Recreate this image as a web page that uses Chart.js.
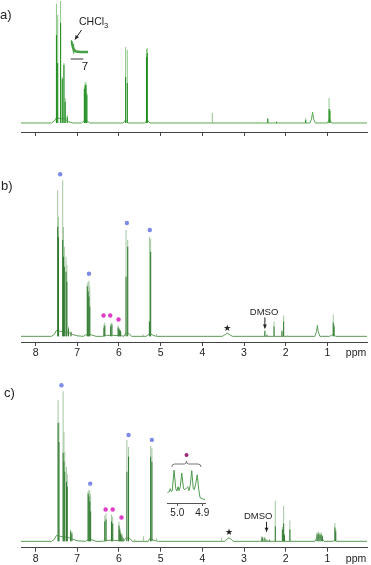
<!DOCTYPE html>
<html>
<head>
<meta charset="utf-8">
<script src="https://cdn.jsdelivr.net/npm/chart.js@4.4.0/dist/chart.umd.min.js"></script>
<style>
  html, body { margin: 0; padding: 0; background: #fff; overflow: hidden; }
  #wrap { position: relative; width: 371px; height: 565px; }
  canvas { position: absolute; }
</style>
</head>
<body>
<div id="wrap">
  <canvas id="specA" width="371" height="140" style="left:0;top:0"></canvas>
  <canvas id="specB" width="371" height="217" style="left:0;top:145px"></canvas>
  <canvas id="specC" width="371" height="206" style="left:0;top:362px"></canvas>
  <canvas id="insetA" width="40" height="45" style="left:62px;top:30px"></canvas>
  <canvas id="insetC" width="55" height="75" style="left:160px;top:445px"></canvas>
</div>
<script>
// ppm axis ticks (shared)
const ppmTicks = [8, 7, 6, 5, 4, 3, 2, 1];

// a) peak lines: position, full height, height of the dense (dark) part
const ppmA  = [7.50, 7.47, 7.40, 7.36, 7.32, 7.29, 7.24, 6.83, 6.81, 6.79, 6.77, 5.84, 5.80, 5.34, 5.32, 3.76, 2.70, 2.43, 2.22, 1.52, 0.96, 0.94];
const topA  = [119, 108, 122, 46, 60, 25, 8, 36, 41, 40, 30, 76, 73, 74, 75, 10, 1, 5, 1.5, 5, 25, 14];
const coreA = [88, 60, 100, 44, 58, 21, 6, 34, 38, 38, 28, 46, 40, 66, 70, 0, 0, 4, 1, 3, 14, 12];
// a) baseline trace
const baseXA = [8.35, 7.62, 7.55, 7.50, 7.30, 7.20, 7.10, 6.90, 6.84, 6.76, 6.70, 5.90, 5.84, 5.78, 5.38, 5.32, 5.26, 1.42, 1.38, 1.355, 1.33, 1.29, 1.00, 0.95, 0.90, 0.05];
const baseYA = [0, 0, 2, 5, 4, 1, 0, 0, 2, 2, 0, 0, 3, 0, 0, 3, 0, 0, 4, 11, 4, 0, 0, 4, 0, 0];

// b)
const ppmB  = [7.47, 7.45, 7.35, 7.33, 7.31, 7.27, 7.25, 7.21, 7.15, 6.76, 6.74, 6.72, 6.70, 6.36, 6.34, 6.20, 6.17, 6.02, 6.00, 5.98, 5.96, 5.83, 5.79, 5.42, 5.27, 5.24, 5.10, 2.50, 2.45, 2.28, 2.09, 2.05, 1.96, 0.86, 0.84];
const topB  = [147, 120, 157, 110, 90, 80, 72, 10, 5, 53, 55, 56, 50, 12, 14, 13, 14, 11, 9, 8, 6, 107, 97, 2, 100, 98, 2, 6.5, 2, 15, 6, 21, 1, 22, 12];
const coreB = [110, 100, 97, 80, 70, 65, 55, 8, 4, 50, 45, 40, 30, 9, 11, 10, 12, 9, 7, 6, 5, 60, 90, 0, 15, 85, 0, 5, 1, 10, 5, 15, 0, 14, 10];
const baseXB = [8.35, 7.62, 7.55, 7.50, 7.40, 7.22, 7.12, 7.00, 6.85, 6.80, 6.66, 6.55, 6.40, 6.30, 6.15, 5.92, 5.88, 5.84, 5.76, 5.70, 5.35, 5.30, 5.25, 5.18, 5.10, 3.52, 3.44, 3.40, 3.36, 3.28, 1.30, 1.26, 1.24, 1.22, 1.18, 0.95, 0.90, 0.85, 0.80, 0.05];
const baseYB = [0, 0, 2, 6, 5, 4, 2, 0.5, 0, 1.5, 1.5, 0, 0, 1, 1, 0.5, 0, 3, 3, 0, 0, 1.5, 3, 1, 0, 0, 2, 3.3, 2, 0, 0, 5, 11, 5, 0, 0, 1, 2, 0, 0];
const blueXB = [7.41, 6.72, 5.81, 5.26];
const blueYB = [163, 63, 114, 107];
const pinkXB = [6.37, 6.21, 6.01];
const pinkYB = [21, 21, 17];

// c)
const ppmC  = [7.46, 7.44, 7.34, 7.32, 7.30, 7.26, 7.24, 7.16, 7.13, 6.74, 6.72, 6.70, 6.68, 6.34, 6.31, 6.18, 6.15, 6.00, 5.98, 5.96, 5.93, 5.90, 5.81, 5.77, 5.62, 5.41, 5.24, 5.21, 5.10, 3.54, 2.57, 2.55, 2.50, 2.45, 2.39, 2.25, 2.08, 2.05, 2.03, 1.90, 1.25, 1.22, 1.18, 1.15, 1.12, 0.82, 0.80];
const topC  = [142, 120, 151, 110, 90, 75, 68, 12, 10, 50, 52, 51, 47, 26, 28, 27, 25, 20, 14, 10, 8, 4, 102, 95, 2, 5, 96, 94, 3, 3.4, 5, 4, 4.5, 2, 2, 40.7, 14.4, 35.7, 8, 21, 9, 10, 9, 9, 6, 18.4, 12];
const coreC = [119, 100, 89, 80, 70, 60, 55, 10, 8, 48, 45, 40, 30, 20, 22, 20, 18, 16, 12, 8, 6, 3, 70, 85, 0, 0, 85, 80, 0, 0, 4, 3, 3, 1, 1, 15, 12, 18, 6, 12, 7, 8, 7, 7, 5, 14, 10];
const baseXC = [8.35, 7.62, 7.55, 7.50, 7.40, 7.22, 7.10, 7.00, 6.80, 6.76, 6.64, 6.55, 6.40, 6.30, 6.10, 5.88, 5.84, 5.74, 5.68, 5.30, 5.26, 5.16, 5.05, 3.46, 3.40, 3.36, 3.32, 3.26, 2.62, 2.40, 1.30, 1.25, 1.15, 1.08, 0.86, 0.82, 0.78, 0.05];
const baseYC = [0, 0, 2, 6, 5, 4, 2, 0.5, 0, 1.5, 1.5, 0, 0, 1, 1, 0.5, 3, 3, 0, 0, 3, 1, 0, 0, 2.5, 3.5, 2.5, 0, 0, 0, 0, 4, 4, 0, 0, 2, 0, 0];
const blueXC = [7.38, 6.69, 5.77, 5.21];
const blueYC = [157, 58, 107, 102];
const pinkXC = [6.32, 6.15, 5.94];
const pinkYC = [32, 32, 24];

// inset in a): CHCl3 signal, zoomed
const insetAPpm = [7.28, 7.27, 7.255, 7.24, 7.22, 7.20, 7.18, 7.10, 6.96];
const insetAInt = [11.3, 10.5, 8, 5, 2.5, 1, 0.4, 0.1, 0];

// inset in c): 5.04 - 4.89 ppm region
const insetCPpm = [5.040, 5.032, 5.028, 5.024, 5.020, 5.013, 5.006, 5.002, 4.997, 4.993, 4.988, 4.982, 4.975, 4.969, 4.962, 4.958, 4.953, 4.948, 4.942, 4.936, 4.932, 4.927, 4.920, 4.914, 4.909, 4.900, 4.889];
const insetCInt = [0, 1, 4, 1, 2, 23, 4, 1.6, 6, 2, 6, 20, 4, 3, 5, 6, 2, 8, 22.6, 4, 3, 8, 18.3, 3, -5, -6.5, -7];
const insetCTicks = [5.0, 4.9];

const FONT = 'Liberation Sans, Arial, Helvetica, sans-serif';

function pts(xs, ys) {
    return xs.map((x, i) => ({ x: x, y: ys[i] }));
}

function sticks(xs, ys, color, order) {
    return {
        type: 'bar',
        data: pts(xs, ys),
        backgroundColor: color,
        borderWidth: 0,
        barThickness: 1,
        inflateAmount: 0,
        grouped: false,
        order: order
    };
}

function trace(xs, ys, color, width, order) {
    return {
        type: 'line',
        data: pts(xs, ys),
        borderColor: color,
        borderWidth: width,
        pointRadius: 0,
        tension: 0,
        fill: false,
        order: order
    };
}

function dots(xs, ys, color) {
    return {
        type: 'scatter',
        data: pts(xs, ys),
        pointRadius: 2.2,
        pointBackgroundColor: color,
        pointBorderWidth: 0,
        clip: false,
        order: 0
    };
}

function spectrumOptions(yMin, yMax, showLabels, pad) {
    return {
        responsive: false,
        animation: false,
        devicePixelRatio: 1,
        layout: { padding: pad },
        plugins: { legend: { display: false }, tooltip: { enabled: false } },
        scales: {
            x: {
                type: 'linear',
                reverse: true,
                min: 0.05,
                max: 8.35,
                offset: false,
                afterBuildTicks: s => { s.ticks = ppmTicks.map(v => ({ value: v })); },
                grid: { offset: false, drawOnChartArea: false, drawTicks: true, tickLength: 4, color: '#444' },
                border: { color: '#444', width: 1 },
                ticks: { display: showLabels, padding: 1, maxRotation: 0, autoSkip: false, color: '#222', font: { family: FONT, size: 10.5 } }
            },
            y: { display: false, min: yMin, max: yMax }
        }
    };
}

function arrow(ctx, x1, y1, x2, y2) {
    ctx.beginPath();
    ctx.moveTo(x1, y1);
    ctx.lineTo(x2, y2);
    ctx.stroke();
    const a = Math.atan2(y2 - y1, x2 - x1);
    ctx.beginPath();
    ctx.moveTo(x2, y2);
    ctx.lineTo(x2 - 4 * Math.cos(a) + 2 * Math.sin(a), y2 - 4 * Math.sin(a) - 2 * Math.cos(a));
    ctx.lineTo(x2 - 4 * Math.cos(a) - 2 * Math.sin(a), y2 - 4 * Math.sin(a) + 2 * Math.cos(a));
    ctx.closePath();
    ctx.fill();
}

function label(ctx, text, x, y, size, align) {
    ctx.font = size + 'px ' + FONT;
    ctx.textAlign = align || 'center';
    ctx.textBaseline = 'middle';
    ctx.fillText(text, x, y);
}

// annotations for b) and c): panel letter, solvent star, DMSO arrow, ppm
function panelNotes(letter, letterX, letterY, star, dmso) {
    return {
        id: 'notes' + letter,
        afterDatasetsDraw(chart) {
            const ctx = chart.ctx;
            const x = chart.scales.x, y = chart.scales.y;
            ctx.save();
            ctx.fillStyle = '#222';
            ctx.strokeStyle = '#222';
            ctx.lineWidth = 1;
            label(ctx, letter + ')', letterX, letterY, 13, 'left');
            ctx.font = '9px DejaVu Sans';
            ctx.textAlign = 'center';
            ctx.textBaseline = 'middle';
            ctx.fillText('\u2605', x.getPixelForValue(star[0]), y.getPixelForValue(star[1]));
            label(ctx, 'DMSO', x.getPixelForValue(dmso[0]), y.getPixelForValue(dmso[1]), 9.5);
            arrow(ctx, x.getPixelForValue(dmso[2]), y.getPixelForValue(dmso[3]), x.getPixelForValue(dmso[2]), y.getPixelForValue(dmso[4]));
            label(ctx, 'ppm', chart.chartArea.right - 11, chart.chartArea.bottom + 11.5, 10.5);
            ctx.restore();
        }
    };
}

// ---- a)
const ctx1 = document.getElementById('specA');
new Chart(ctx1, {
    type: 'bar',
    data: {
        datasets: [
            trace(baseXA, baseYA, '#5aaa50', 1, 3),
            sticks(ppmA, topA, '#8cc886', 2),
            sticks(ppmA, coreA, '#1e8c1e', 1)
        ]
    },
    options: spectrumOptions(-9, 122, false, { left: 21, right: 4, top: 1, bottom: 4 }),
    plugins: [{
        id: 'notesA',
        afterDatasetsDraw(chart) {
            const ctx = chart.ctx;
            ctx.save();
            ctx.fillStyle = '#222';
            ctx.strokeStyle = '#222';
            ctx.lineWidth = 1;
            label(ctx, 'a)', 0, 15, 13, 'left');
            label(ctx, 'CHCl', 79, 22.5, 10.5, 'left');
            const w = ctx.measureText('CHCl').width;
            label(ctx, '3', 79 + w, 26, 7.5, 'left');
            arrow(ctx, 81.5, 30, 75, 39.5);
            ctx.restore();
        }
    }]
});

// ---- b)
const ctx2 = document.getElementById('specB');
new Chart(ctx2, {
    type: 'bar',
    data: {
        datasets: [
            trace(baseXB, baseYB, '#5c9c55', 1, 3),
            sticks(ppmB, topB, '#a3c6a0', 2),
            sticks(ppmB, coreB, '#2f7a2f', 1),
            dots(blueXB, blueYB, '#7d8ae8'),
            dots(pinkXB, pinkYB, '#e03cc8')
        ]
    },
    options: spectrumOptions(-5.7, 172.3, true, { left: 21, right: 4, top: 20, bottom: 1.4 }),
    plugins: [panelNotes('b', 1, 41.5, [3.40, 7.3], [2.52, 24.5, 2.50, 19, 8])]
});

// ---- c)
const ctx3 = document.getElementById('specC');
new Chart(ctx3, {
    type: 'bar',
    data: {
        datasets: [
            trace(baseXC, baseYC, '#5c9c55', 1, 3),
            sticks(ppmC, topC, '#a3c6a0', 2),
            sticks(ppmC, coreC, '#2f7a2f', 1),
            dots(blueXC, blueYC, '#7d8ae8'),
            dots(pinkXC, pinkYC, '#e03cc8')
        ]
    },
    options: spectrumOptions(-6.4, 167.3, true, { left: 21, right: 4, top: 13, bottom: 1.7 }),
    plugins: [panelNotes('c', 4, 31.5, [3.36, 9], [2.66, 25, 2.46, 19.6, 9.6])]
});

// ---- inset a)
const ctx4 = document.getElementById('insetA');
new Chart(ctx4, {
    type: 'line',
    data: {
        datasets: [trace(insetAPpm, insetAInt, '#46a046', 2.5, 1)]
    },
    options: {
        responsive: false,
        animation: false,
        devicePixelRatio: 1,
        layout: { padding: { left: 8.7, right: 13.7, top: 8, bottom: 21 } },
        plugins: { legend: { display: false }, tooltip: { enabled: false } },
        scales: {
            x: { type: 'linear', reverse: true, min: 6.96, max: 7.28, display: false },
            y: { display: false, min: -2, max: 14 }
        }
    },
    plugins: [{
        id: 'scaleA',
        afterDatasetsDraw(chart) {
            const ctx = chart.ctx;
            const x = chart.scales.x;
            const b = chart.chartArea.bottom;
            ctx.save();
            ctx.strokeStyle = '#9a9a9a';
            ctx.lineWidth = 2;
            ctx.beginPath();
            ctx.moveTo(x.getPixelForValue(7.28), b + 5);
            ctx.lineTo(x.getPixelForValue(7.05), b + 5);
            ctx.stroke();
            ctx.fillStyle = '#222';
            label(ctx, '7', x.getPixelForValue(7.02), b + 13, 11.5);
            ctx.restore();
        }
    }]
});

// ---- inset c)
const ctx5 = document.getElementById('insetC');
new Chart(ctx5, {
    type: 'line',
    data: {
        datasets: [trace(insetCPpm, insetCInt, '#4f9a4f', 1, 1)]
    },
    options: {
        responsive: false,
        animation: false,
        devicePixelRatio: 1,
        layout: { padding: { left: 7.3, right: 10, top: 23, bottom: 0 } },
        plugins: { legend: { display: false }, tooltip: { enabled: false } },
        scales: {
            x: {
                type: 'linear',
                reverse: true,
                min: 4.889,
                max: 5.040,
                afterBuildTicks: s => { s.ticks = insetCTicks.map(v => ({ value: v })); },
                grid: { drawOnChartArea: false, drawTicks: true, tickLength: 3, color: '#555' },
                border: { color: '#555', width: 1 },
                ticks: { padding: 1, maxRotation: 0, autoSkip: false, color: '#222', font: { family: FONT, size: 10 }, callback: v => v.toFixed(1) }
            },
            y: { display: false, min: -10.7, max: 25.3 }
        }
    },
    plugins: [{
        id: 'braceC',
        afterDatasetsDraw(chart) {
            const ctx = chart.ctx;
            const x = chart.scales.x;
            const t = chart.chartArea.top;
            const x1 = x.getPixelForValue(5.022), x2 = x.getPixelForValue(4.905), xm = x.getPixelForValue(4.963);
            ctx.save();
            ctx.strokeStyle = '#777';
            ctx.lineWidth = 1;
            ctx.beginPath();
            ctx.moveTo(x1, t - 1);
            ctx.quadraticCurveTo(x1, t - 4, x1 + 3, t - 4);
            ctx.lineTo(xm - 2, t - 4);
            ctx.quadraticCurveTo(xm, t - 4, xm, t - 7);
            ctx.quadraticCurveTo(xm, t - 4, xm + 2, t - 4);
            ctx.lineTo(x2 - 3, t - 4);
            ctx.quadraticCurveTo(x2, t - 4, x2, t - 1);
            ctx.stroke();
            ctx.fillStyle = '#a0287a';
            ctx.beginPath();
            ctx.arc(xm, t - 13, 2, 0, Math.PI * 2);
            ctx.fill();
            ctx.restore();
        }
    }]
});
</script>
</body>
</html>
